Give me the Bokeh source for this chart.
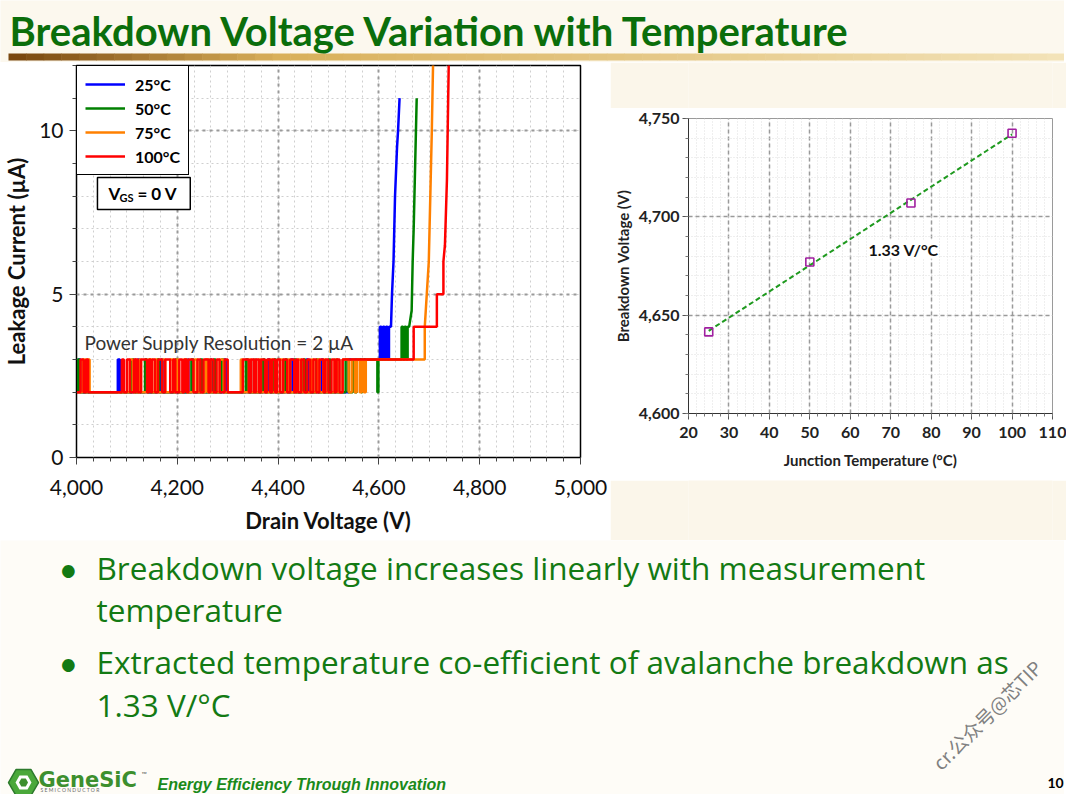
import numpy as np
from bokeh.plotting import figure
from bokeh.models import (Range1d, Label, Legend, LegendItem, BoxAnnotation,
                          NumeralTickFormatter, SingleIntervalTicker)
from bokeh.layouts import column, row
from bokeh.embed import file_html
from bokeh.resources import INLINE

# ------------------------------------------------------------------ data
legend_labels = ["25°C", "50°C", "75°C", "100°C"]
series_colors = ["#0000ff", "#008000", "#ff8000", "#ff0000"]

# noise pulses (V ranges where the reading jumps from 2 uA to 3 uA)
blue_pulses = [(4004, 4008), (4082, 4086), (4122, 4126), (4168, 4172), (4218, 4222),
               (4264, 4268), (4292, 4296), (4352, 4356), (4380, 4384), (4426, 4430),
               (4456, 4460), (4486, 4490), (4514, 4518)]
blue_tail_v = [4540, 4540, 4602, 4602, 4605, 4605, 4608, 4608, 4611, 4611, 4614, 4614,
               4617, 4617, 4620, 4620, 4624, 4626, 4629, 4632, 4636, 4638, 4641]
blue_tail_i = [2, 3, 3, 4, 4, 3, 3, 4, 4, 3, 3, 4, 4, 3, 3, 4, 4, 5, 6, 8, 9.5, 10, 11]

green_pulses = [(4002, 4006), (4110, 4114), (4136, 4140), (4160, 4164), (4196, 4200),
                (4228, 4232), (4246, 4250), (4272, 4276), (4288, 4292), (4336, 4340),
                (4370, 4374), (4392, 4396), (4414, 4418), (4432, 4436), (4450, 4454),
                (4476, 4480), (4500, 4504), (4534, 4540), (4548, 4552)]
green_tail_v = [4556, 4556, 4565, 4565, 4567, 4567, 4597, 4597, 4599, 4599, 4645, 4645,
                4648, 4648, 4651, 4651, 4654, 4654, 4657, 4657, 4660, 4665, 4667, 4669,
                4672, 4675]
green_tail_i = [2, 3, 3, 2, 2, 3, 3, 2, 2, 3, 3, 4, 4, 3, 3, 4, 4, 3, 3, 4, 4, 4.5, 6, 7,
                9, 11]

orange_pulses = [(4012, 4018), (4022, 4026), (4106, 4112), (4124, 4128), (4142, 4150),
                 (4156, 4160), (4170, 4176), (4186, 4192), (4198, 4203), (4212, 4220),
                 (4234, 4240), (4256, 4260), (4262, 4266), (4284, 4292), (4326, 4330),
                 (4342, 4346), (4352, 4356), (4362, 4366), (4384, 4388), (4404, 4410),
                 (4420, 4424), (4440, 4446), (4466, 4470), (4478, 4482), (4490, 4494),
                 (4512, 4518), (4528, 4540), (4546, 4552), (4556, 4562), (4566, 4570)]
orange_tail_v = [4574, 4574, 4691, 4691, 4695, 4699, 4702, 4705, 4708]
orange_tail_i = [2, 3, 3, 4, 5, 6, 8, 10, 12.5]

red_pulses = [(4008, 4014), (4019, 4023), (4090, 4094), (4100, 4106), (4114, 4117),
              (4118, 4122), (4128, 4140), (4144, 4147), (4150, 4156), (4162, 4170),
              (4176, 4186), (4192, 4196), (4204, 4210), (4214, 4218), (4222, 4232),
              (4240, 4246), (4252, 4262), (4266, 4272), (4278, 4284), (4294, 4300),
              (4330, 4342), (4346, 4352), (4356, 4362), (4366, 4374), (4378, 4384),
              (4388, 4394), (4398, 4404), (4410, 4418), (4424, 4432), (4436, 4440),
              (4446, 4452), (4458, 4464), (4470, 4476), (4482, 4490), (4494, 4500),
              (4506, 4512), (4516, 4522)]
red_tail_v = [4528, 4528, 4669, 4669, 4715, 4715, 4728, 4728, 4731, 4735, 4739]
red_tail_i = [2, 3, 3, 4, 4, 5, 5, 6, 6.5, 8.5, 12.5]

# breakdown voltage vs junction temperature
junction_temp = [25, 50, 75, 100]
breakdown_v = [4641.5, 4677, 4707, 4742.5]

GREEN_T = "#0b6e0b"
GREEN_B = "#137a13"
FONT = "Lato"
CREAM = "#fbf6ea"


def build(pulses, tail_v, tail_i, v0=4000.0, base=2.0, high=3.0):
    xs, ys = [v0], [base]
    for a, b in pulses:
        xs += [a, a, b, b]
        ys += [base, high, high, base]
    return xs + list(tail_v), ys + list(tail_i)


def canvas(w, h, y0, y1, color):
    f = figure(width=w, height=h, x_range=Range1d(0, w), y_range=Range1d(y1, y0),
               x_axis_type=None, y_axis_type=None, toolbar_location=None,
               output_backend="svg", min_border=0)
    f.grid.visible = False
    f.outline_line_color = None
    f.background_fill_color = color
    f.border_fill_color = color
    return f


# ------------------------------------------------------------------ header
hdr = canvas(1064, 62, 0, 62, "#fcf8ee")
n = 60
edges = np.linspace(8, 1064, n + 1)
c0 = np.array([0x7a, 0x48, 0x10])
c1 = np.array([0xd9, 0xb0, 0x5a])
c2 = np.array([0xf3, 0xe3, 0xb8])
cols = []
for k in range(n):
    t = k / (n - 1)
    c = c0 + (c1 - c0) * (t / 0.25) if t < 0.25 else c1 + (c2 - c1) * ((t - 0.25) / 0.75)
    cols.append("#%02x%02x%02x" % tuple(int(v) for v in c))
hdr.quad(left=edges[:-1], right=edges[1:] + 0.5, top=[53] * n, bottom=[60] * n,
         fill_color=cols, line_color=None)
hdr.add_layout(Label(x=9, y=30, text="Breakdown Voltage Variation with Temperature",
                     text_font=FONT, text_font_style="bold", text_font_size="40px",
                     text_color=GREEN_T, text_baseline="middle"))

# ------------------------------------------------------------------ left chart
pL = figure(width=610, height=478, x_range=Range1d(4000, 5000), y_range=Range1d(0, 12),
            toolbar_location=None, output_backend="svg",
            min_border_left=74, min_border_right=30, min_border_top=3, min_border_bottom=83)
pL.background_fill_color = "white"
pL.border_fill_color = "white"
pL.outline_line_color = "black"
pL.outline_line_width = 1.5

pL.xaxis.ticker = SingleIntervalTicker(interval=200, num_minor_ticks=6)
pL.yaxis.ticker = SingleIntervalTicker(interval=5, num_minor_ticks=5)
pL.xaxis.formatter = NumeralTickFormatter(format="0,0")
for ax in (pL.xaxis[0], pL.yaxis[0]):
    ax.major_label_text_font = FONT
    ax.major_label_text_font_size = "21px"
    ax.major_label_text_color = "#111111"
    ax.axis_label_text_font = FONT
    ax.axis_label_text_font_size = "22px"
    ax.axis_label_text_font_style = "bold"
    ax.axis_label_text_color = "#111111"
    ax.major_tick_out = 7
    ax.major_tick_in = 0
    ax.minor_tick_out = 4
    ax.minor_tick_in = 0
    ax.axis_line_color = "black"
    ax.major_tick_line_color = "#444444"
    ax.minor_tick_line_color = "#444444"
pL.xaxis.axis_label = "Drain Voltage (V)"
pL.yaxis.axis_label = "Leakage Current (µA)"
pL.xaxis.major_label_standoff = 15
pL.xaxis.axis_label_standoff = 9
pL.yaxis.major_label_standoff = 6
pL.yaxis.axis_label_standoff = 6
for g in (pL.xgrid[0], pL.ygrid[0]):
    g.grid_line_color = "#9a9a9a"
    g.grid_line_dash = "3 4"
    g.grid_line_width = 2
    g.minor_grid_line_color = "#cfcfcf"
    g.minor_grid_line_dash = "2 3"
    g.minor_grid_line_width = 1

all_series = [(blue_pulses, blue_tail_v, blue_tail_i),
              (green_pulses, green_tail_v, green_tail_i),
              (orange_pulses, orange_tail_v, orange_tail_i),
              (red_pulses, red_tail_v, red_tail_i)]
items = []
for (pul, tv, ti), col, lab in zip(all_series, series_colors, legend_labels):
    xs, ys = build(pul, tv, ti)
    r = pL.line(xs, ys, line_color=col, line_width=2.5)
    items.append(LegendItem(label=lab, renderers=[r]))


def lx(px):  # reference-slide pixel -> data (annotation placement only)
    return 4000 + (px - 74) * 1000.0 / 505.0


def ly(py):
    return (457 - py) / 32.67


pL.add_layout(Label(x=lx(82), y=ly(342), text="Power Supply Resolution = 2 µA",
                    text_font=FONT, text_font_size="19px", text_color="#333333",
                    text_baseline="middle"))
pL.add_layout(BoxAnnotation(left=lx(95), right=lx(188), top=ly(177), bottom=ly(209),
                            fill_color="white", fill_alpha=1.0, line_color="black",
                            line_width=1.5, line_alpha=1.0))
pL.add_layout(Label(x=lx(106), y=ly(193), text="V", text_font=FONT, text_font_size="17px",
                    text_font_style="bold", text_color="black", text_baseline="middle"))
pL.add_layout(Label(x=lx(117), y=ly(197), text="GS", text_font=FONT, text_font_size="11px",
                    text_font_style="bold", text_color="black", text_baseline="middle"))
pL.add_layout(Label(x=lx(135), y=ly(193), text="= 0 V", text_font=FONT,
                    text_font_size="17px", text_font_style="bold", text_color="black",
                    text_baseline="middle"))

legend = Legend(items=items, location="top_left", margin=0, padding=8, spacing=4,
                glyph_width=40, glyph_height=20, label_height=20, label_standoff=10,
                border_line_color="black", border_line_width=1.5, border_line_alpha=1.0,
                background_fill_color="white", background_fill_alpha=1.0,
                label_text_font=FONT, label_text_font_style="bold",
                label_text_font_size="16px", label_text_color="black")
pL.add_layout(legend)

# ------------------------------------------------------------------ right chart
RW = 456
pR = figure(width=RW, height=372, x_range=Range1d(20, 110), y_range=Range1d(4600, 4750),
            toolbar_location=None, output_backend="svg",
            min_border_left=74, min_border_right=14, min_border_top=10, min_border_bottom=67)
pR.background_fill_color = "white"
pR.border_fill_color = "white"
pR.outline_line_color = "#9a9a9a"
pR.xaxis.ticker = SingleIntervalTicker(interval=10, num_minor_ticks=5)
pR.yaxis.ticker = SingleIntervalTicker(interval=50, num_minor_ticks=5)
pR.yaxis.formatter = NumeralTickFormatter(format="0,0")
for ax in (pR.xaxis[0], pR.yaxis[0]):
    ax.major_label_text_font = FONT
    ax.major_label_text_font_size = "16px"
    ax.major_label_text_font_style = "bold"
    ax.major_label_text_color = "#222222"
    ax.axis_label_text_font = FONT
    ax.axis_label_text_font_size = "15px"
    ax.axis_label_text_font_style = "bold"
    ax.axis_label_text_color = "#222222"
    ax.major_tick_out = 6
    ax.major_tick_in = 0
    ax.minor_tick_out = 3
    ax.minor_tick_in = 0
    ax.axis_line_color = "#333333"
    ax.major_tick_line_color = "#555555"
    ax.minor_tick_line_color = "#777777"
pR.xaxis.axis_label = "Junction Temperature (°C)"
pR.yaxis.axis_label = "Breakdown Voltage (V)"
pR.xaxis.major_label_standoff = 7
pR.xaxis.axis_label_standoff = 10
pR.yaxis.major_label_standoff = 3
pR.yaxis.axis_label_standoff = 4
for g in (pR.xgrid[0], pR.ygrid[0]):
    g.grid_line_color = "#9a9a9a"
    g.grid_line_dash = "4 3"
    g.grid_line_width = 1.5
    g.minor_grid_line_color = "#dedede"
    g.minor_grid_line_dash = "1 2"
    g.minor_grid_line_width = 1

slope, icpt = np.polyfit(junction_temp, breakdown_v, 1)
fit_x = [junction_temp[0], junction_temp[-1]]
fit_y = [icpt + slope * t for t in fit_x]
pR.line(fit_x, fit_y, line_color="#1f9a1f", line_width=2, line_dash="5 3")
pR.scatter(junction_temp, breakdown_v, marker="square", size=8, fill_color=None,
           line_color="#a020a0", line_width=1.6)
pR.add_layout(Label(x=64.5, y=4683.5, text="1.33 V/°C", text_font=FONT,
                    text_font_size="16px", text_font_style="bold", text_color="#111111",
                    text_baseline="middle", background_fill_color="white",
                    background_fill_alpha=1.0))

right_col = column(canvas(RW, 46, 0, 46, CREAM), pR, canvas(RW, 60, 0, 60, CREAM))
mid = row(pL, right_col)

# ------------------------------------------------------------------ bottom text
bot = canvas(1064, 254, 540, 794, "#fefcf7")


def btxt(x, y, t, size="31.5px", color=GREEN_B, style="normal", font="Open Sans",
         align="left"):
    bot.add_layout(Label(x=x, y=y, text=t, text_font=font, text_font_size=size,
                         text_color=color, text_font_style=style, text_baseline="middle",
                         text_align=align))


btxt(58, 568, "•", size="34px", font=FONT)
btxt(96, 567, "Breakdown voltage increases linearly with measurement")
btxt(96, 609, "temperature")
btxt(58, 662, "•", size="34px", font=FONT)
btxt(96, 661, "Extracted temperature co-efficient of avalanche breakdown as")
btxt(96, 704, "1.33 V/°C")

# footer logo
bot.scatter([23], [782], marker="hex", size=30, fill_color="#4aa83a", line_color="#2d7a2d",
            line_width=1.5)
bot.scatter([23], [782], marker="hex", size=16, fill_color="white", line_color=None)
bot.scatter([23], [782], marker="hex", size=9, fill_color="#3d8f2e", line_color=None)
btxt(38, 779, "GeneSiC", size="21px", color="#3d8f2e", style="bold", font="DejaVu Sans")
btxt(141, 773, "™", size="7px", color="#555555", font=FONT)
btxt(40, 789, "S E M I C O N D U C T O R", size="5px", color="#666666", font=FONT)
btxt(157, 784, "Energy Efficiency Through Innovation", size="16px", color="#1a8a1a",
     style="bold italic", font="Liberation Sans")
btxt(1055, 782, "10", size="14px", color="black", style="bold", align="center", font=FONT)
bot.add_layout(Label(x=986, y=714, text="cr.公众号@芯TIP", text_font="Noto Sans CJK SC",
                     text_font_size="19px", text_color="#808080", text_align="center",
                     text_baseline="middle", angle=45, angle_units="deg"))

page = column(hdr, mid, bot)
open("out.html", "w").write(file_html(page, INLINE))
